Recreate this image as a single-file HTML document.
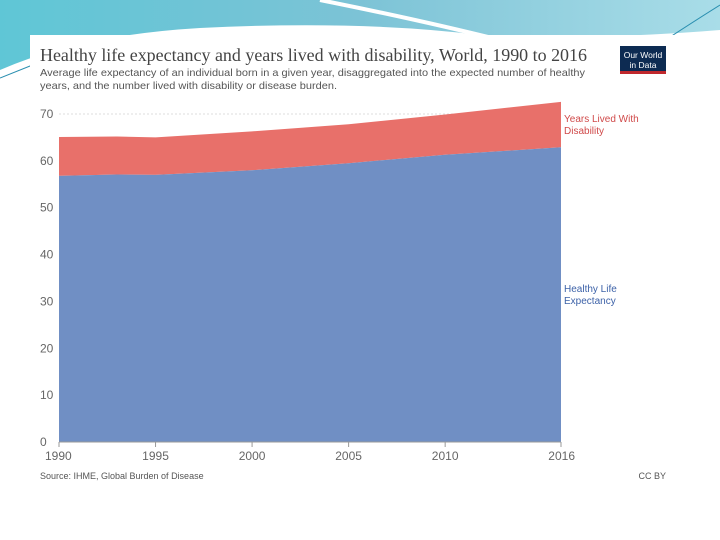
<!DOCTYPE html>
<html><head><meta charset="utf-8"><style>
body{margin:0;width:720px;height:540px;overflow:hidden;background:#fff;font-family:"Liberation Sans",sans-serif;position:relative}
#bg{position:absolute;left:0;top:0}
#card{position:absolute;left:30px;top:35px;width:647px;height:457px;background:#fff}
</style></head><body>
<svg id="bg" width="720" height="540">
<defs><linearGradient id="g1" x1="0" x2="1"><stop offset="0" stop-color="#5fc6d6"/><stop offset="0.5" stop-color="#7cc3d6"/><stop offset="1" stop-color="#a9dde8"/></linearGradient></defs>
<path d="M0 0 H720 V30 Q600 40 480 35 Q360 20 200 28 Q80 35 0 70 Z" fill="url(#g1)"/>
<path d="M320 0 Q420 20 500 40" stroke="#fff" stroke-width="4" fill="none"/>
<path d="M620 70 Q680 30 720 5" stroke="#2a8fb0" stroke-width="1" fill="none"/>
<path d="M0 78 Q20 70 40 62" stroke="#2a8fb0" stroke-width="1" fill="none"/>
</svg>
<div id="card"></div>
<svg width="720" height="540" style="position:absolute;left:0;top:0" id="chart">
<text x="40" y="61" font-family="Liberation Serif,serif" font-size="17.8" textLength="547" lengthAdjust="spacingAndGlyphs" fill="#444">Healthy life expectancy and years lived with disability, World, 1990 to 2016</text>
<text x="40" y="76" font-size="10.5" textLength="545" lengthAdjust="spacingAndGlyphs" fill="#555">Average life expectancy of an individual born in a given year, disaggregated into the expected number of healthy</text>
<text x="40" y="89" font-size="10.5" textLength="297" lengthAdjust="spacingAndGlyphs" fill="#555">years, and the number lived with disability or disease burden.</text>
<g><rect x="620" y="46" width="46" height="27" fill="#0d2b52"/><rect x="620" y="71" width="46" height="3" fill="#c0282d"/>
<text x="643" y="58" font-size="8.5" fill="#fff" text-anchor="middle">Our World</text><text x="643" y="68" font-size="8.5" fill="#fff" text-anchor="middle">in Data</text></g>
<g id="grid"></g><g id="areas"></g><g id="axes"></g>
<text x="564" y="122" font-size="10" fill="#d04a4a">Years Lived With</text>
<text x="564" y="134" font-size="10" fill="#d04a4a">Disability</text>
<text x="564" y="292" font-size="10" fill="#3d62a8">Healthy Life</text>
<text x="564" y="304" font-size="10" fill="#3d62a8">Expectancy</text>
<text x="40" y="479" font-size="9" fill="#555">Source: IHME, Global Burden of Disease</text>
<text x="666" y="479" font-size="9" fill="#555" text-anchor="end">CC BY</text>
</svg>
<script>
const years=[1990,1993,1995,2000,2005,2010,2016];
const healthy=[56.8,57.1,57.0,58.0,59.5,61.3,62.9];
const total=[65.1,65.2,65.0,66.3,67.8,69.9,72.6];
const yTicks=[0,10,20,30,40,50,60,70];
const xTicks=[1990,1995,2000,2005,2010,2016];
const NS="http://www.w3.org/2000/svg";
const x=v=>59+(v-1990)/(2016-1990)*(561-59);
const y=v=>442-v*(442-114)/70;
function mk(t,a,p){const e=document.createElementNS(NS,t);for(const k in a)e.setAttribute(k,a[k]);p.appendChild(e);return e;}
const grid=document.getElementById('grid'),areas=document.getElementById('areas'),axes=document.getElementById('axes');
yTicks.forEach(v=>{
 if(v>0){const l=mk('line',{x1:59,x2:561,y1:y(v),y2:y(v),stroke:'#ddd','stroke-dasharray':'2,2'},grid);
 
 }
 const t=mk('text',{x:40,y:y(v)+4,'font-size':12,fill:'#666'},axes);t.textContent=v;
 
 
});
xTicks.forEach(v=>{
 const anchor=v===1990?'start':(v===2016?'end':'middle');
 const xx=v===1990?x(v)-14:(v===2016?x(v)+14:x(v));
 const t=mk('text',{x:xx,y:460,'font-size':12,fill:'#666','text-anchor':anchor},axes);t.textContent=v;
 
 
 const tk=mk('line',{x1:x(v),x2:x(v),y1:442,y2:447,stroke:'#999'},axes);
 
 
});
let topPath='',hp='';
years.forEach((yr,i)=>{topPath+=(i?'L':'M')+x(yr)+' '+y(total[i])+' ';hp+=(i?'L':'M')+x(yr)+' '+y(healthy[i])+' ';});
let back='';for(let i=years.length-1;i>=0;i--)back+='L'+x(years[i])+' '+y(healthy[i])+' ';
const a1=mk('path',{d:topPath+back+'Z',fill:'#e8706a'},areas);


const a2=mk('path',{d:hp+'L'+x(2016)+' '+y(0)+' L'+x(1990)+' '+y(0)+' Z',fill:'#708fc4'},areas);


const ax=mk('line',{x1:59,x2:561,y1:442,y2:442,stroke:'#999'},axes);


</script>
</body></html>
